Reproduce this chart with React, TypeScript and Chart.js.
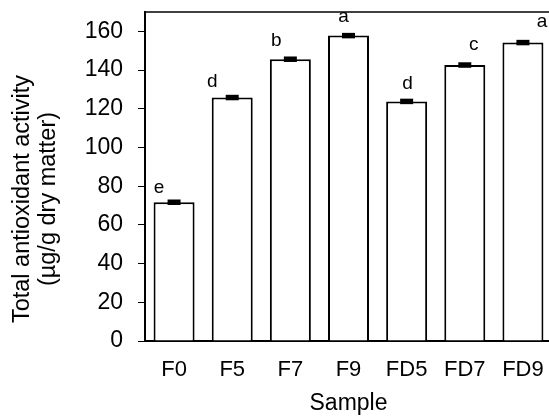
import React, { useEffect, useRef } from "react";
import { Chart, registerables } from "chart.js";

Chart.register(...registerables);

// Samples and their total antioxidant activity (µg/g dry matter)
const categories = ["F0", "F5", "F7", "F9", "FD5", "FD7", "FD9"];
const activity = [71.7, 125.8, 145.6, 157.8, 123.8, 142.6, 154.2];
const activityError = [0.9, 0.9, 0.9, 0.9, 0.9, 0.9, 0.9];
const groupLetters = ["e", "d", "b", "a", "d", "c", "a"];
const yTickValues = [0, 20, 40, 60, 80, 100, 120, 140, 160];

const yTitleLines = ["Total antioxidant activity", "(µg/g dry matter)"];
const xTitle = "Sample";

// Styling
const FONT = "'Liberation Sans', Arial, sans-serif";
const letterShiftX = [-15, -20, -14, -5, 1, 9, 19];
const letterGap = [9, 11, 13, 14, 12, 15, 16];

const decorPlugin = {
  id: "decor",
  afterDatasetsDraw(chart: any) {
    const { ctx, chartArea, scales } = chart;
    const xs = scales.x;
    const ys = scales.y;
    ctx.save();

    // top frame line
    ctx.strokeStyle = "#000";
    ctx.lineWidth = 1.5;
    ctx.beginPath();
    ctx.moveTo(chartArea.left, chartArea.top);
    ctx.lineTo(chart.width, chartArea.top);
    ctx.stroke();

    // error bars
    activity.forEach((v, i) => {
      const cx = xs.getPixelForValue(i);
      const yHi = ys.getPixelForValue(v + activityError[i]);
      const yLo = ys.getPixelForValue(v - activityError[i]);
      const half = 6.5;
      ctx.fillStyle = "#000";
      ctx.fillRect(cx - half, yHi - 1, half * 2, yLo - yHi + 2);
    });

    // significance letters
    ctx.fillStyle = "#000";
    ctx.font = `19px ${FONT}`;
    ctx.textAlign = "center";
    ctx.textBaseline = "alphabetic";
    groupLetters.forEach((t, i) => {
      const cx = xs.getPixelForValue(i) + letterShiftX[i];
      const yTop = ys.getPixelForValue(activity[i]);
      ctx.fillText(t, cx, yTop - letterGap[i]);
    });

    // y-axis title, two lines, rotated
    ctx.font = `23.5px ${FONT}`;
    ctx.textBaseline = "middle";
    const midY = 199;
    const lineX = [23, 49];
    yTitleLines.forEach((line, k) => {
      ctx.save();
      ctx.translate(lineX[k], midY);
      ctx.rotate(-Math.PI / 2);
      ctx.fillText(line, 0, 0);
      ctx.restore();
    });

    ctx.restore();
  },
};

export default function App() {
  const canvasRef = useRef<HTMLCanvasElement | null>(null);

  useEffect(() => {
    if (!canvasRef.current) return;
    const chart = new Chart(canvasRef.current, {
      type: "bar",
      data: {
        labels: categories,
        datasets: [
          {
            data: activity,
            backgroundColor: "#ffffff",
            borderColor: "#000000",
            borderWidth: 2,
            borderSkipped: "start",
            categoryPercentage: 1,
            barPercentage: 0.705,
          },
        ],
      },
      options: {
        responsive: false,
        animation: false,
        devicePixelRatio: 1,
        layout: { padding: { top: 12, left: 0, right: 0, bottom: 0 } },
        plugins: {
          legend: { display: false },
          tooltip: { enabled: false },
        },
        scales: {
          x: {
            grid: { display: false, drawTicks: false },
            border: { display: true, color: "#000", width: 2 },
            ticks: {
              color: "#000",
              font: { family: FONT, size: 22, lineHeight: 1.2 },
              padding: 16,
              maxRotation: 0,
            },
            title: {
              display: true,
              text: xTitle,
              color: "#000",
              font: { family: FONT, size: 23, lineHeight: 1 },
              padding: { top: 0, bottom: 1.5 },
            },
            afterFit(scale: any) {
              scale.height = 76;
              scale.paddingLeft = 0;
              scale.paddingRight = 0;
            },
          },
          y: {
            min: 0,
            max: 170,
            grid: {
              display: true,
              drawOnChartArea: false,
              drawTicks: true,
              tickLength: 7,
              tickColor: "#000",
              tickWidth: 1,
            },
            border: { display: true, color: "#000", width: 2 },
            ticks: {
              color: "#000",
              font: { family: FONT, size: 23 },
              padding: 15,
            },
            afterBuildTicks(scale: any) {
              scale.ticks = yTickValues.map((v) => ({ value: v }));
            },
            afterFit(scale: any) {
              scale.width = 145;
              scale.paddingTop = 0;
              scale.paddingBottom = 0;
            },
          },
        },
      },
      plugins: [decorPlugin],
    });
    return () => chart.destroy();
  }, []);

  return (
    <div
      style={{
        position: "absolute",
        left: 0,
        top: 0,
        width: 549,
        height: 417,
        overflow: "hidden",
        background: "#fff",
      }}
    >
      <canvas ref={canvasRef} width={552} height={417} style={{ display: "block" }} />
    </div>
  );
}
